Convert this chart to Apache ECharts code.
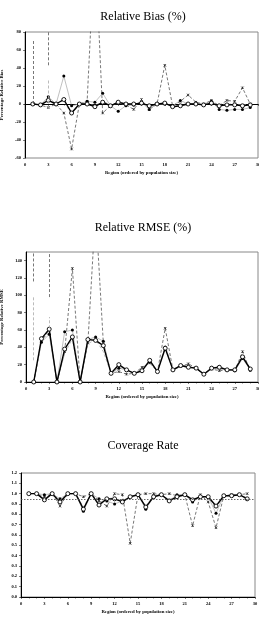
<!DOCTYPE html>
<html>
<head>
<meta charset="utf-8">
<script src="https://cdn.jsdelivr.net/npm/echarts@6/dist/echarts.min.js"></script>
<style>
  html, body { margin: 0; padding: 0; background: #fff; }
  #chart { width: 259px; height: 617px; }
</style>
</head>
<body>
<div id="chart"></div>
<script>
const regions = [1, 2, 3, 4, 5, 6, 7, 8, 9, 10, 11, 12, 13, 14, 15, 16, 17, 18, 19, 20, 21, 22, 23, 24, 25, 26, 27, 28, 29];

// Relative Bias (%)
const biasA = [0, -1, 4, 0, 5, -10, 0, 0, -3, 2, -2, 2, 0, 0, 1, -2, 0, 1, -3, -2, 0, 0, -1, 1, -2, -1, -1, -2, -1];
const biasB = [0, -1, 8, 0, 31, -2, 0, 3, 2, 12, -2, -8, -2, -1, 2, -6, 0, 0, -2, 4, 0, 1, -1, 3, -6, -7, -6, -6, -4];
const biasC = [0, -1, -4, 0, -10, -50, 0, 3, 180, -10, -2, 1, -1, -6, 5, -6, 0, 43, -2, 3, 10, 2, 0, 4, -2, 4, 3, 18, 0];
const biasD = [0, -1, 3, 0, 4, -12, 0, 1, -2, 3, -1, 1, 0, -1, 2, -3, 0, 2, -4, -1, 1, -1, 0, 2, -1, 0, 0, -1, 0];
const biasSpikesC = [[1, 0, 72], [3, 43, 80]];
const biasSpikesD = [[3, -5, 28]];

// Relative RMSE (%)
const rmseA = [0, 50, 61, 0, 38, 52, 0, 49, 48, 42, 10, 20, 14, 10, 13, 25, 12, 39, 14, 19, 17, 16, 9, 16, 17, 14, 14, 29, 15];
const rmseB = [0, 46, 55, 0, 58, 60, 0, 49, 52, 47, 10, 16, 14, 10, 13, 23, 12, 40, 14, 19, 17, 16, 9, 16, 18, 14, 13, 27, 14];
const rmseC = [0, 48, 60, 0, 35, 131, 0, 45, 200, 45, 10, 12, 9, 10, 17, 22, 12, 62, 14, 18, 21, 16, 9, 15, 13, 14, 13, 35, 13];
const rmseD = [0, 47, 58, 0, 33, 50, 0, 44, 49, 35, 10, 17, 14, 10, 14, 24, 12, 42, 14, 20, 18, 16, 9, 16, 15, 14, 14, 30, 14];
const rmseSpikesC = [[1, 116, 150], [3, 98, 150]];
const rmseSpikesD = [[1, 25, 98], [3, 62, 75]];

// Coverage Rate
const covA = [1.0, 1.0, 0.94, 1.0, 0.92, 1.0, 1.0, 0.85, 1.0, 0.89, 0.95, 0.95, 0.92, 0.97, 0.99, 0.87, 0.97, 0.99, 0.93, 0.97, 0.99, 0.94, 0.97, 0.97, 0.88, 0.98, 0.98, 0.99, 0.95];
const covB = [1.0, 1.0, 0.99, 1.0, 0.95, 1.0, 1.0, 0.83, 1.0, 0.95, 0.93, 0.90, 0.93, 0.97, 0.99, 0.85, 0.97, 0.99, 0.93, 0.99, 0.99, 0.92, 0.97, 0.97, 0.81, 0.98, 0.98, 0.99, 0.95];
const covC = [1.0, 1.0, 0.97, 1.0, 0.88, 1.0, 1.0, 0.97, 1.0, 0.93, 0.88, 1.0, 0.99, 0.52, 0.99, 1.0, 1.0, 0.99, 1.0, 0.98, 0.99, 0.69, 0.99, 0.92, 0.67, 0.98, 0.99, 0.99, 1.0];
const covD = [1.0, 1.0, 0.95, 1.0, 0.93, 1.0, 1.0, 0.87, 1.0, 0.91, 0.95, 0.96, 0.93, 0.97, 0.99, 0.88, 0.98, 0.99, 0.94, 0.98, 0.99, 0.95, 0.97, 0.97, 0.86, 0.98, 0.98, 0.99, 0.96];
const covNominal = 0.95;

const titles = ["Relative Bias (%)", "Relative RMSE (%)", "Coverage Rate"];
const yNames = ["Percentage Relative Bias", "Percentage Relative RMSE", "Coverage Rate"];
const xName = "Region (ordered by population size)";

const serif = "Liberation Serif";
const chart = echarts.init(document.getElementById("chart"));

const pairs = (vals) => regions.map((r, i) => [r, vals[i]]);

const spikeLines = (spikes, color) => ({
  silent: true,
  symbol: "none",
  label: { show: false },
  lineStyle: { color: color, type: [3, 2], width: 0.8 },
  data: spikes.map((s) => [{ coord: [s[0], s[1]] }, { coord: [s[0], s[2]] }]),
});

const makeSeries = (idx, a, b, c, d, spikesC, spikesD, extraMark) => [
  {
    type: "line",
    xAxisIndex: idx,
    yAxisIndex: idx,
    data: pairs(d),
    symbol: "none",
    lineStyle: { color: "#aaa", width: 0.8, type: [3, 2] },
    z: 1,
    markLine: spikesD ? spikeLines(spikesD, "#aaa") : undefined,
  },
  {
    type: "line",
    xAxisIndex: idx,
    yAxisIndex: idx,
    data: pairs(c),
    symbol: "path://M0 0L1 1M1 0L0 1M0.5 0L0.5 1",
    symbolSize: 2.5,
    itemStyle: { color: "#222", borderColor: "#222", borderWidth: 0.7 },
    lineStyle: { color: "#555", width: 0.8, type: [3, 2] },
    z: 2,
    markLine: extraMark || (spikesC ? spikeLines(spikesC, "#555") : undefined),
  },
  {
    type: "line",
    xAxisIndex: idx,
    yAxisIndex: idx,
    data: pairs(b),
    symbol: "circle",
    symbolSize: 3,
    itemStyle: { color: "#000" },
    lineStyle: { color: "#b0b0b0", width: 0.8 },
    z: 3,
  },
  {
    type: "line",
    xAxisIndex: idx,
    yAxisIndex: idx,
    data: pairs(a),
    symbol: "circle",
    symbolSize: 4,
    itemStyle: { color: "#fff", borderColor: "#000", borderWidth: 0.9 },
    lineStyle: { color: "#000", width: 1.4 },
    z: 4,
  },
];

const grids = [
  { left: 25, right: 1, top: 32, height: 126 },
  { left: 26, right: 1, top: 252, height: 130 },
  { left: 21, right: 4, top: 473, height: 124 },
];
const yRanges = [
  { min: -60, max: 80, interval: 20 },
  { min: 0, max: 150, interval: 20 },
  { min: 0, max: 1.2, interval: 0.1 },
];
const titleTops = [6, 217, 435];

const labelStyle = { fontFamily: serif, fontSize: 4.5, fontWeight: "bold", color: "#000" };

const option = {
  animation: false,
  backgroundColor: "#fff",
  title: titles.map((t, i) => ({
    text: t,
    left: 138,
    textAlign: "center",
    top: titleTops[i],
    textStyle: { fontFamily: serif, fontSize: 12, fontWeight: "normal", color: "#000" },
  })),
  grid: grids.map((g) => ({
    left: g.left,
    right: g.right,
    top: g.top,
    height: g.height,
    containLabel: false,
    outerBoundsMode: "none",
    show: true,
    borderColor: "#888",
    borderWidth: 1,
    backgroundColor: "#fff",
  })),
  xAxis: grids.map((g, i) => ({
    type: "value",
    gridIndex: i,
    min: 0,
    max: 30,
    interval: 3,
    name: xName,
    nameLocation: "middle",
    nameGap: 12,
    nameTextStyle: { fontFamily: serif, fontSize: 4.8, fontWeight: "bold", color: "#000" },
    axisLine: { lineStyle: { color: "#000", width: 1 } },
    axisTick: { show: true, length: 2, inside: false, lineStyle: { color: "#000", width: 0.5 } },
    minorTick: { show: true, splitNumber: 3, length: 1.5, lineStyle: { color: "#000", width: 0.5 } },
    axisLabel: Object.assign({ margin: 4 }, labelStyle),
    splitLine: { show: false },
  })),
  yAxis: yRanges.map((r, i) => ({
    type: "value",
    gridIndex: i,
    min: r.min,
    max: r.max,
    interval: r.interval,
    name: yNames[i],
    nameLocation: "middle",
    nameRotate: 90,
    nameGap: i === 2 ? 12 : 15,
    nameTextStyle: { fontFamily: serif, fontSize: 4.8, fontWeight: "bold", color: "#000" },
    axisLine: { show: true, lineStyle: { color: "#000", width: 1 } },
    axisTick: { show: true, length: 2, lineStyle: { color: "#000", width: 0.5 } },
    axisLabel: Object.assign(
      {
        margin: 4,
        showMaxLabel: i !== 1,
        formatter: i === 2 ? (v) => v.toFixed(1) : (v) => String(v),
      },
      labelStyle
    ),
    splitLine: { show: false },
  })),
  series: [
    ...makeSeries(0, biasA, biasB, biasC, biasD, biasSpikesC, biasSpikesD),
    ...makeSeries(1, rmseA, rmseB, rmseC, rmseD, rmseSpikesC, rmseSpikesD),
    ...makeSeries(2, covA, covB, covC, covD, null, null, {
      silent: true,
      symbol: "none",
      label: { show: false },
      lineStyle: { color: "#444", type: [1.5, 1.5], width: 0.8 },
      data: [{ yAxis: covNominal }],
    }),
  ],
};

chart.setOption(option);
</script>
</body>
</html>
